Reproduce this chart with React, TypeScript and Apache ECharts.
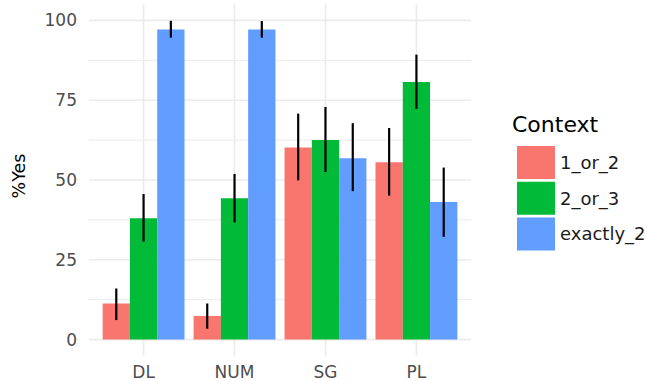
import React, { useEffect, useRef } from "react";
import * as echarts from "echarts";

const categories = ["DL", "NUM", "SG", "PL"];
const contexts = ["1_or_2", "2_or_3", "exactly_2"];
const colors = ["#F8766D", "#00BA38", "#619CFF"];

const values1or2 = [11.3, 7.4, 60.2, 55.6];
const lo1or2 = [6.1, 3.4, 49.9, 45.1];
const hi1or2 = [16.0, 11.3, 70.8, 66.3];

const values2or3 = [38.0, 44.3, 62.5, 80.7];
const lo2or3 = [30.7, 36.7, 52.5, 72.3];
const hi2or3 = [45.6, 51.9, 72.9, 89.3];

const valuesExactly2 = [97.2, 97.2, 56.8, 43.1];
const loExactly2 = [94.6, 94.6, 46.5, 32.2];
const hiExactly2 = [99.9, 99.8, 67.8, 53.9];

const yTicks = [0, 25, 50, 75, 100];
const yMinor = [12.5, 37.5, 62.5, 87.5];

const FONT = "DejaVu Sans";
const X_MIN = 0.4;
const X_MAX = 4.6;
const Y_MIN = -5;
const Y_MAX = 105;

export default function App() {
  const ref = useRef<HTMLDivElement>(null);
  useEffect(() => {
    if (!ref.current) return;
    const chart = echarts.init(ref.current, undefined, { renderer: "svg" });
    const vals = [values1or2, values2or3, valuesExactly2];
    const los = [lo1or2, lo2or3, loExactly2];
    const his = [hi1or2, hi2or3, hiExactly2];
    const DODGE = 0.3;

    const barSeries = contexts.map((name, g) => ({
      type: "custom",
      name,
      itemStyle: { color: colors[g] },
      z: 2,
      encode: { x: 0, y: 1 },
      data: vals[g].map((v, i) => [i + 1, v]),
      renderItem: (params: any, api: any) => {
        const cat = api.value(0);
        const v = api.value(1);
        const xc = cat + (g - 1) * DODGE;
        const p0 = api.coord([xc - DODGE / 2, v]);
        const p1 = api.coord([xc + DODGE / 2, 0]);
        return {
          type: "rect",
          shape: { x: p0[0], y: p0[1], width: p1[0] - p0[0], height: p1[1] - p0[1] },
          style: { fill: colors[g] },
        };
      },
    }));

    const errData: number[][] = [];
    contexts.forEach((_, g) => {
      categories.forEach((_, i) => {
        errData.push([i + 1, los[g][i], his[g][i], g]);
      });
    });

    const errSeries = {
      type: "custom",
      name: "err",
      z: 3,
      encode: { x: 0, y: [1, 2] },
      data: errData,
      renderItem: (params: any, api: any) => {
        const cat = api.value(0);
        const g = api.value(3);
        const xc = cat + (g - 1) * DODGE;
        const a = api.coord([xc, api.value(1)]);
        const b = api.coord([xc, api.value(2)]);
        return {
          type: "line",
          shape: { x1: a[0], y1: a[1], x2: b[0], y2: b[1] },
          style: { stroke: "#000000", lineWidth: 2.2 },
        };
      },
    };

    // gridlines: [orientation (0 vertical, 1 horizontal), value, major(1)/minor(0)]
    const gridData: number[][] = [];
    categories.forEach((_, i) => gridData.push([0, i + 1, 1]));
    yTicks.forEach((v) => gridData.push([1, v, 1]));
    yMinor.forEach((v) => gridData.push([1, v, 0]));

    const gridSeries = {
      type: "custom",
      name: "grid",
      z: 0,
      silent: true,
      data: gridData,
      renderItem: (params: any, api: any) => {
        const o = api.value(0);
        const v = api.value(1);
        const major = api.value(2) === 1;
        const a = o === 0 ? api.coord([v, Y_MIN]) : api.coord([X_MIN, v]);
        const b = o === 0 ? api.coord([v, Y_MAX]) : api.coord([X_MAX, v]);
        return {
          type: "line",
          shape: { x1: a[0], y1: a[1], x2: b[0], y2: b[1] },
          style: { stroke: "#EBEBEB", lineWidth: major ? 1.7 : 1.0 },
        };
      },
    };

    chart.setOption({
      animation: false,
      textStyle: { fontFamily: FONT },
      grid: { left: 89, right: 176, top: 4.5, bottom: 25.5 },
      xAxis: {
        type: "value",
        min: X_MIN,
        max: X_MAX,
        axisLine: { show: false },
        axisTick: { show: false },
        splitLine: { show: false },
        axisLabel: {
          customValues: [1, 2, 3, 4],
          formatter: (v: number) => categories[Math.round(v) - 1] ?? "",
          color: "#4D4D4D",
          fontSize: 17,
          fontFamily: FONT,
          margin: 8,
        },
      },
      yAxis: {
        type: "value",
        min: Y_MIN,
        max: Y_MAX,
        axisLine: { show: false },
        axisTick: { show: false },
        splitLine: { show: false },
        axisLabel: {
          customValues: yTicks,
          color: "#4D4D4D",
          fontSize: 17,
          fontFamily: FONT,
          margin: 12,
        },
      },
      legend: {
        data: contexts,
        orient: "vertical",
        left: 512,
        top: 141,
        itemWidth: 38,
        itemHeight: 33,
        itemGap: 2.7,
        icon: "rect",
        textStyle: { fontSize: 18, color: "#1A1A1A", fontFamily: FONT },
        selectedMode: false,
      },
      graphic: [
        {
          type: "text",
          x: 512,
          y: 124,
          style: {
            text: "Context",
            fontSize: 22,
            fontFamily: FONT,
            fill: "#000000",
            align: "left",
            verticalAlign: "middle",
          },
        },
        {
          type: "text",
          x: 18.5,
          y: 176,
          rotation: Math.PI / 2,
          style: {
            text: "%Yes",
            fontSize: 17.5,
            fontFamily: FONT,
            fill: "#000000",
            align: "center",
            verticalAlign: "middle",
          },
        },
      ],
      series: [gridSeries, ...barSeries, errSeries],
    });
    return () => chart.dispose();
  }, []);
  return (
    <div
      ref={ref}
      style={{ position: "fixed", left: 0, top: 0, width: 647, height: 381, background: "#FFFFFF" }}
    />
  );
}
